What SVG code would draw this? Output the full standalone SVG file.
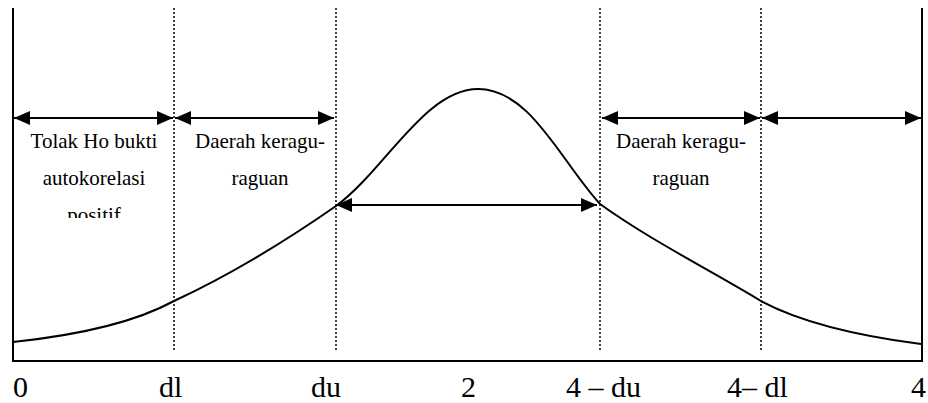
<svg xmlns="http://www.w3.org/2000/svg" width="928" height="403" viewBox="0 0 928 403">
<style>
.ax{stroke:#000;stroke-width:2;fill:none}
.dot{stroke:#000;stroke-width:1.5;stroke-dasharray:2 2;fill:none}
.arr{stroke:#000;stroke-width:2;marker-start:url(#ah);marker-end:url(#ah)}
.lbl{font-family:"Liberation Serif","Times New Roman",serif;font-size:21px;fill:#000;text-anchor:middle}
.tick{font-family:"Liberation Serif","Times New Roman",serif;font-size:30px;fill:#000}
</style>
<defs>
<marker id="ah" markerUnits="userSpaceOnUse" markerWidth="16" markerHeight="14" refX="16" refY="7" orient="auto-start-reverse">
<path d="M0,0 L16,7 L0,14 Z" fill="#000"/>
</marker>
<clipPath id="clipPos"><rect x="0" y="120" width="174" height="98"/></clipPath>
</defs>
<g id="axes">
<path class="ax" d="M13,8 V361 H922 V8"/>
</g>
<g id="boundaries">
<line class="dot" x1="174" y1="8" x2="174" y2="352"/>
<line class="dot" x1="336" y1="8" x2="336" y2="352"/>
<line class="dot" x1="600" y1="8" x2="600" y2="352"/>
<line class="dot" x1="761" y1="8" x2="761" y2="352"/>
</g>
<g id="curve">
<path class="ax" d="M13,342 C70,336 130,325 174,301 C230,275 290,238 336,206 C385,170 425,89 478,89 C530,89 560,160 600,204 C650,240 710,270 761,301 C800,322 860,336 921,344"/>
</g>
<g id="connectors">
<line class="arr" x1="14" y1="118" x2="173" y2="118"/>
<line class="arr" x1="175" y1="118" x2="334" y2="118"/>
<line class="arr" x1="336" y1="205" x2="597" y2="205"/>
<line class="arr" x1="602" y1="118" x2="760" y2="118"/>
<line class="arr" x1="762" y1="118" x2="921" y2="118"/>
</g>
<g id="region-tolak">
<g clip-path="url(#clipPos)">
<text class="lbl" x="94" y="148">Tolak Ho bukti</text>
<text class="lbl" x="94" y="185">autokorelasi</text>
<text class="lbl" x="94" y="222">positif</text>
</g>
</g>
<g id="region-ragu-left">
<text class="lbl" x="260" y="148">Daerah keragu-</text>
<text class="lbl" x="260" y="185">raguan</text>
</g>
<g id="region-ragu-right">
<text class="lbl" x="681" y="148">Daerah keragu-</text>
<text class="lbl" x="681" y="185">raguan</text>
</g>
<g id="ticks">
<text class="tick" x="13" y="397">0</text>
<text class="tick" x="159" y="397">dl</text>
<text class="tick" x="311" y="397">du</text>
<text class="tick" x="461" y="397">2</text>
<text class="tick" x="566" y="397">4 – du</text>
<text class="tick" x="727" y="397">4– dl</text>
<text class="tick" x="911" y="397">4</text>
</g>
</svg>
